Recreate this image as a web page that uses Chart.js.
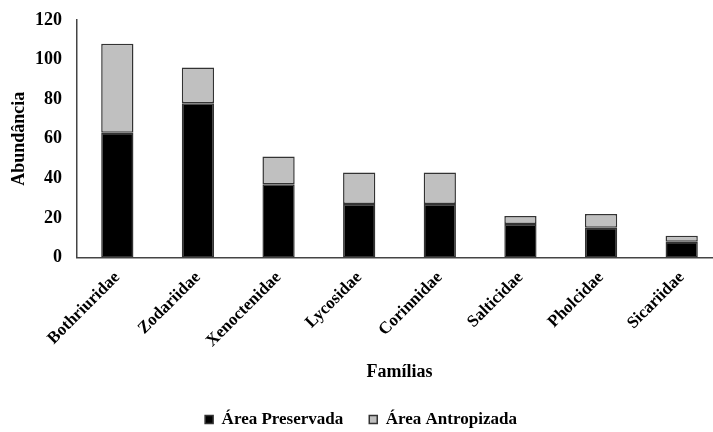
<!DOCTYPE html>
<html>
<head>
<meta charset="utf-8">
<script src="https://cdn.jsdelivr.net/npm/chart.js@4"></script>
<style>
  html, body { margin: 0; padding: 0; background: #fff; overflow: hidden; }
  #wrap { width: 725px; height: 438px; }
</style>
</head>
<body>
<div id="wrap"><canvas id="abundChart"></canvas></div>
<script>
  // familias e abundancias
  const familias = ['Bothriuridae', 'Zodariidae', 'Xenoctenidae', 'Lycosidae', 'Corinnidae', 'Salticidae', 'Pholcidae', 'Sicariidae'];
  const preservada = [63, 78, 37, 27, 27, 17, 15, 8];
  const antropizada = [45, 18, 14, 16, 16, 4, 7, 3];
  const yTicks = [0, 20, 40, 60, 80, 100, 120];

  const fonte = 'Liberation Serif, Times New Roman, serif';

  new Chart(document.getElementById('abundChart'), {
    type: 'bar',
    data: {
      labels: familias,
      datasets: [{
        label: 'Área Preservada',
        data: preservada,
        backgroundColor: '#000',
        borderColor: '#333',
        borderWidth: 1.5,
        borderSkipped: false,
        categoryPercentage: 1,
        barPercentage: 0.4
      }, {
        label: 'Área Antropizada',
        data: antropizada,
        backgroundColor: '#c0c0c0',
        borderColor: '#333',
        borderWidth: 1.5,
        borderSkipped: false,
        categoryPercentage: 1,
        barPercentage: 0.4
      }]
    },
    options: {
      responsive: true,
      maintainAspectRatio: false,
      animation: false,
      layout: { padding: { top: 20, left: 0, right: 3, bottom: 0 } },
      plugins: {
        tooltip: { enabled: false },
        legend: {
          position: 'bottom',
          labels: {
            boxWidth: 8,
            boxHeight: 8,
            color: '#000',
            padding: 26,
            font: { family: fonte, size: 17, weight: 'bold' }
          }
        }
      },
      scales: {
        x: {
          stacked: true,
          grid: { display: false, drawTicks: false },
          border: { display: true, color: '#444', width: 1.5 },
          ticks: {
            color: '#000',
            maxRotation: 45,
            minRotation: 45,
            padding: 10,
            font: { family: fonte, size: 17, weight: 'bold' }
          },
          title: {
            display: true,
            text: 'Famílias',
            color: '#000',
            padding: { top: 0, bottom: 2 },
            font: { family: fonte, size: 18, weight: 'bold' }
          },
          afterFit: (scale) => {
            scale.paddingLeft = 0;
            scale.paddingRight = 0;
          }
        },
        y: {
          stacked: true,
          min: 0,
          max: 120,
          afterBuildTicks: (axis) => { axis.ticks = yTicks.map(v => ({ value: v })); },
          grid: { display: false, drawTicks: false },
          border: { display: true, color: '#444', width: 1.5 },
          ticks: {
            color: '#000',
            padding: 15,
            font: { family: fonte, size: 18, weight: 'bold' }
          },
          title: {
            display: true,
            text: 'Abundância',
            color: '#000',
            padding: { top: 9, bottom: 4 },
            font: { family: fonte, size: 18, weight: 'bold' }
          },
          afterFit: (scale) => {
            scale.width = 77;
            scale.paddingTop = 0;
            scale.paddingBottom = 0;
          }
        }
      }
    }
  });
</script>
</body>
</html>
